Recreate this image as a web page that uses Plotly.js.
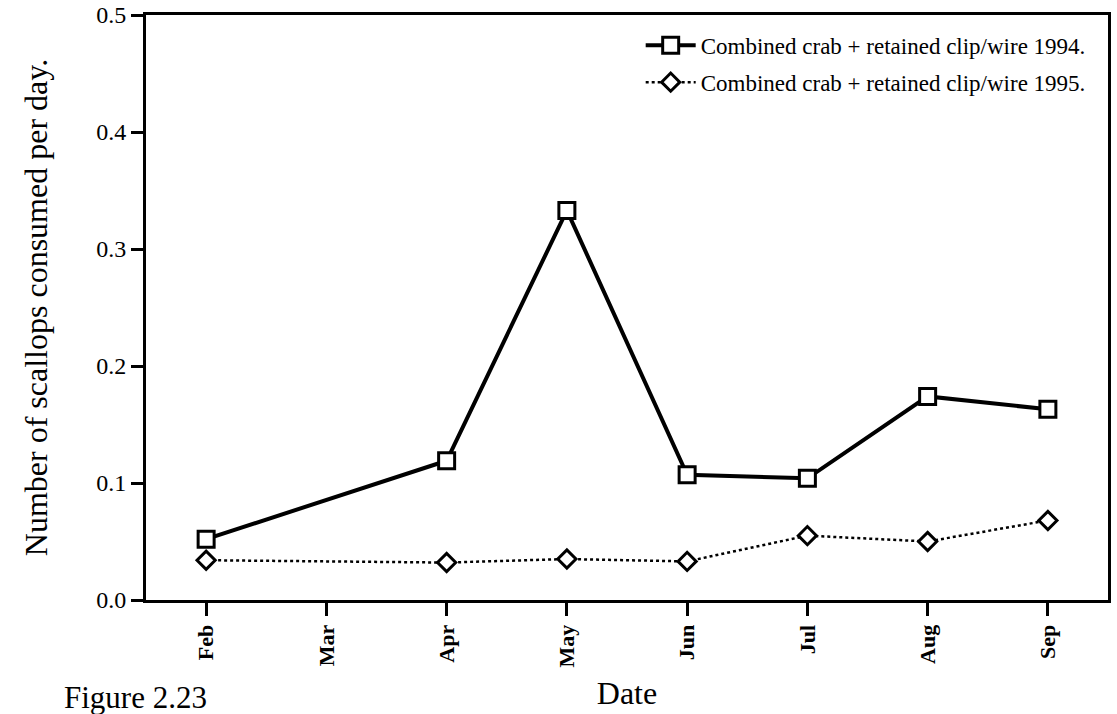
<!DOCTYPE html>
<html>
<head>
<meta charset="utf-8">
<script src="https://cdn.plot.ly/plotly-3.0.1.min.js"></script>
<style>html,body{margin:0;padding:0;background:#fff;}#chart{width:1117px;height:714px;}</style>
</head>
<body>
<div id="chart"></div>
<script>
var months = ["Feb", "Mar", "Apr", "May", "Jun", "Jul", "Aug", "Sep"];
var monthIndex = [0, 1, 2, 3, 4, 5, 6, 7];
var x1994 = [0, 2, 3, 4, 5, 6, 7];
var y1994 = [0.052, 0.119, 0.333, 0.107, 0.104, 0.174, 0.163];
var x1995 = [0, 2, 3, 4, 5, 6, 7];
var y1995 = [0.034, 0.032, 0.035, 0.033, 0.055, 0.050, 0.068];
var yTicks = [0.0, 0.1, 0.2, 0.3, 0.4, 0.5];
var yTickText = ["0.0", "0.1", "0.2", "0.3", "0.4", "0.5"];

var serif = "Liberation Serif, Times New Roman, serif";

var traces = [
  {
    x: x1994, y: y1994, type: "scatter", mode: "lines+markers",
    name: "Combined crab + retained clip/wire 1994.", legendgroup: "a",
    line: {color: "#000", width: 4},
    marker: {symbol: "square", size: 16, color: "#fff", line: {color: "#000", width: 3}}
  },
  {
    x: x1995, y: y1995, type: "scatter", mode: "lines+markers",
    name: "Combined crab + retained clip/wire 1995.", legendgroup: "b",
    line: {color: "#000", width: 2.5, dash: "dot"},
    marker: {symbol: "diamond", size: 14, color: "#fff", line: {color: "#000", width: 3}}
  }
];

var layout = {
  width: 1117, height: 714,
  margin: {l: 146, r: 9, t: 15, b: 114},
  paper_bgcolor: "#fff", plot_bgcolor: "#fff",
  font: {family: serif, color: "#000"},
  showlegend: true,
  legend: {
    x: 0.982, y: 0.985, xanchor: "right", yanchor: "top",
    bgcolor: "rgba(0,0,0,0)", borderwidth: 0,
    font: {family: serif, size: 23, color: "#000"},
    traceorder: "grouped", tracegroupgap: 4, itemwidth: 50
  },
  xaxis: {
    range: [-0.5, 7.5],
    tickmode: "array", tickvals: monthIndex, ticktext: months,
    tickangle: -90,
    tickfont: {family: serif, size: 22, color: "#000", weight: "bold"},
    ticks: "outside", ticklen: 13, tickwidth: 3, tickcolor: "#000",
    showline: true, linewidth: 3, linecolor: "#000", mirror: true,
    showgrid: false, zeroline: false,
    title: {text: "Date", font: {family: serif, size: 32, color: "#000"}, standoff: 16}
  },
  yaxis: {
    range: [0, 0.5],
    tickmode: "array", tickvals: yTicks, ticktext: yTickText,
    tickfont: {family: serif, size: 24, color: "#000"},
    ticks: "outside", ticklen: 12, tickwidth: 3, tickcolor: "#000",
    showline: true, linewidth: 3, linecolor: "#000", mirror: true,
    showgrid: false, zeroline: false,
    title: {text: "Number of scallops consumed per day.", font: {family: serif, size: 32, color: "#000"}, standoff: 40}
  },
  annotations: [
    {text: "Figure 2.23", xref: "paper", yref: "paper", x: -0.087, y: -0.166,
     xanchor: "left", yanchor: "middle", showarrow: false,
     font: {family: serif, size: 31, color: "#000"}}
  ]
};

Plotly.newPlot("chart", traces, layout, {displayModeBar: false, staticPlot: true});
</script>
</body>
</html>
